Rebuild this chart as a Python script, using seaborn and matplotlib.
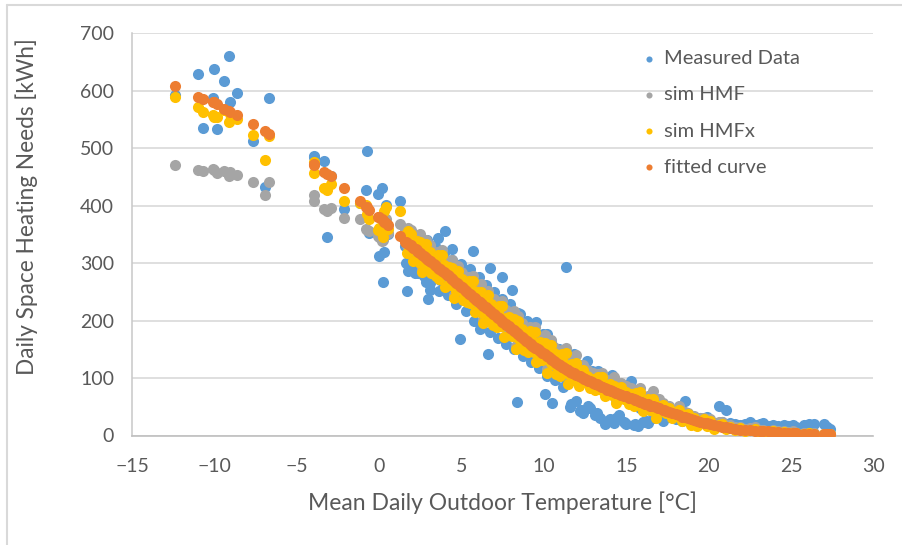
import numpy as np
import pandas as pd
import seaborn as sns
import matplotlib.pyplot as plt
from matplotlib.lines import Line2D

# Mean daily outdoor temperature of each day [°C]
temp = [
    -12.4, -11.0, -10.7, -10.12, -10.06, -9.88, -9.41, -9.12, -9.05, -8.66,
    -7.69, -6.94, -6.71, -3.98, -3.95, -3.33, -3.16, -2.95, -2.15, -1.20,
    -0.78, -0.75, -0.62, -0.05, -0.02, 0.18, 0.22, 0.30, 0.42, 0.50, 1.23,
    1.55, 1.66, 1.74, 1.85, 1.95, 2.05, 2.15, 2.30, 2.35, 2.50,
    2.62, 2.75, 2.85, 2.96, 3.06, 3.15, 3.30, 3.45, 3.57, 3.70,
    3.82, 3.97, 4.10, 4.22, 4.35, 4.44, 4.55, 4.70, 4.80, 4.88,
    5.00, 5.10, 5.20, 5.35, 5.45, 5.55, 5.69, 5.80, 5.90, 6.00,
    6.10, 6.20, 6.32, 6.45, 6.60, 6.71, 6.80, 6.90, 7.00, 7.12,
    7.25, 7.35, 7.48, 7.60, 7.72, 7.85, 8.03, 8.15, 8.28, 8.37,
    8.45, 8.53, 8.65, 8.78, 8.90, 9.02, 9.15, 9.30, 9.45, 9.51,
    9.62, 9.75, 9.88, 10.05, 10.16, 10.28, 10.40, 10.50, 10.60, 10.72,
    10.85, 10.97, 11.10, 11.22, 11.31, 11.45, 11.60, 11.72, 11.84, 11.95,
    12.10, 12.25, 12.40, 12.52, 12.63, 12.80, 12.95, 13.10, 13.26, 13.40,
    13.55, 13.70, 13.85, 14.00, 14.11, 14.25, 14.40, 14.55, 14.70, 14.85,
    15.00, 15.15, 15.29, 15.45, 15.60, 15.70, 15.85, 16.00, 16.15, 16.30,
    16.45, 16.60, 16.80, 17.00, 17.20, 17.40, 17.60, 17.80, 18.00, 18.20,
    18.40, 18.57, 18.75, 18.90, 19.10, 19.30, 19.50, 19.70, 19.90, 20.10,
    20.30, 20.60, 20.80, 21.06, 21.30, 21.60, 21.90, 22.20, 22.50, 22.80,
    23.10, 23.30, 23.60, 23.90, 24.20, 24.55, 24.85, 25.10, 25.30, 25.80,
    26.10, 26.40, 27.00, 27.20, 27.40,
    1.60, 1.90, 2.20, 2.45, 2.70, 2.90, 3.10, 3.40, 3.65, 3.90,
    4.15, 4.40, 4.65, 4.95, 5.25, 5.50, 5.75, 6.05, 6.25, 6.50,
    6.75, 6.95, 7.20, 7.45, 7.70, 7.95, 8.20, 8.42, 8.70, 8.95,
    9.20, 9.40, 9.70, 9.95, 10.20, 10.45, 10.70, 10.92, 11.15, 11.40,
    11.65, 11.90, 12.20, 12.45, 12.70, 12.90, 13.20, 13.50, 13.80, 14.05,
    14.35, 14.65, 14.95, 15.25, 15.55, 15.90, 16.20, 16.55, 16.90, 17.30,
]

# Measured daily space heating needs [kWh]
measured = [
    592, 630, 535, 588, 637, 534, 617, 661, 580, 596,
    512, 432, 587, 487, 484, 477, 345, 451, 394, 405,
    428, 496, 352, 421, 313, 431, 267, 319, 402, 350, 408,
    330, 251, 286, 318, 300, 310, 282, 305, 283, 296,
    300, 287, 268, 237, 254, 290, 280, 300, 344, 270,
    292, 356, 262, 285, 244, 324, 258, 276, 250, 168,
    268, 240, 262, 236, 270, 252, 321, 246, 226, 250,
    185, 238, 222, 246, 141, 292, 220, 236, 200, 224,
    196, 215, 275, 190, 208, 176, 254, 180, 196, 58,
    170, 211, 160, 182, 152, 176, 148, 170, 140, 197,
    158, 134, 150, 73, 176, 124, 146, 56, 132, 118,
    138, 110, 128, 102, 294, 120, 49, 116, 141, 60,
    108, 45, 40, 104, 130, 48, 96, 36, 113, 30,
    88, 20, 78, 28, 105, 22, 76, 35, 68, 24,
    20, 60, 95, 18, 56, 17, 48, 24, 50, 22,
    44, 30, 40, 38, 26, 40, 32, 36, 28, 34,
    26, 60, 30, 24, 28, 22, 30, 26, 32, 26,
    22, 51, 24, 45, 22, 20, 18, 20, 24, 18,
    20, 22, 17, 19, 17, 18, 16, 18, 15, 18,
    20, 20, 20, 14, 12,
    300, 350, 290, 345, 278, 340, 266, 330, 252, 318,
    244, 306, 228, 298, 216, 290, 200, 275, 192, 262,
    180, 250, 170, 238, 160, 228, 150, 214, 138, 200,
    128, 190, 118, 176, 104, 164, 96, 150, 84, 140,
    54, 128, 42, 120, 52, 112, 40, 100, 26, 92,
    30, 84, 22, 76, 20, 66, 26, 58, 34, 50,
]

# Simulated needs, HMF model [kWh]
sim_hmf = [
    470, 462, 460, 464, 462, 456, 461, 451, 458, 454,
    442, 419, 441, 419, 408, 394, 390, 396, 379, 376,
    360, 358, 356, 347, 345, 338, 340, 350, 376, 352, 368,
    359, 331, 362, 338, 358, 319, 339, 342, 318, 351,
    290, 331, 341, 314, 328, 286, 320, 291, 320, 295,
    322, 275, 294, 297, 272, 306, 245, 285, 295, 269,
    282, 240, 275, 246, 275, 251, 277, 231, 250, 254,
    230, 263, 202, 243, 252, 225, 239, 196, 232, 203,
    232, 208, 234, 188, 207, 210, 183, 217, 156, 198,
    208, 182, 195, 152, 187, 159, 188, 162, 189, 144,
    164, 167, 142, 175, 115, 157, 166, 140, 154, 111,
    147, 118, 148, 124, 152, 106, 125, 129, 106, 140,
    92, 119, 122, 109, 114, 86, 109, 93, 107, 94,
    109, 84, 92, 93, 80, 101, 62, 89, 92, 80,
    86, 58, 82, 66, 80, 68, 83, 59, 67, 68,
    55, 77, 37, 64, 57, 48, 52, 34, 43, 51,
    28, 41, 40, 24, 34, 23, 31, 30, 22, 29,
    15, 24, 24, 19, 18, 14, 15, 11, 13, 14,
    9, 10, 8, 10, 8, 8, 6, 7, 5, 5,
    5, 4, 3, 3, 3,
    352, 334, 348, 312, 338, 300, 332, 314, 282, 308,
    276, 298, 264, 284, 276, 240, 266, 256, 224, 250,
    214, 238, 226, 198, 218, 186, 206, 178, 192, 164,
    180, 154, 170, 146, 160, 134, 150, 124, 140, 116,
    130, 108, 122, 102, 112, 96, 106, 88, 96, 82,
    90, 74, 82, 68, 74, 62, 66, 54, 56, 48,
]

# Simulated needs, HMFx model [kWh]
sim_hmfx = [
    590, 571, 563, 558, 554, 555, 566, 545, 560, 551,
    523, 479, 522, 456, 476, 431, 427, 437, 408, 404,
    402, 385, 376, 358, 362, 353, 346, 391, 398, 360, 391,
    349, 317, 356, 326, 350, 303, 329, 338, 308, 337,
    284, 319, 333, 298, 318, 282, 310, 277, 314, 283,
    314, 259, 284, 293, 262, 292, 239, 273, 287, 253,
    272, 236, 265, 232, 269, 239, 269, 215, 240, 250,
    220, 249, 196, 231, 244, 209, 229, 192, 222, 189,
    226, 196, 226, 172, 197, 206, 173, 203, 150, 186,
    200, 166, 185, 148, 177, 145, 182, 150, 181, 128,
    154, 163, 132, 161, 109, 145, 158, 124, 144, 107,
    137, 104, 142, 112, 144, 90, 115, 125, 96, 126,
    86, 107, 114, 93, 104, 82, 99, 79, 101, 82,
    101, 68, 82, 89, 70, 87, 56, 77, 84, 64,
    76, 54, 72, 52, 74, 56, 75, 43, 57, 64,
    45, 63, 31, 52, 53, 40, 47, 31, 38, 45,
    25, 35, 38, 19, 30, 16, 26, 28, 17, 25,
    12, 18, 20, 11, 15, 9, 13, 7, 10, 12,
    6, 8, 5, 8, 5, 6, 4, 5, 4, 3,
    4, 3, 2, 2, 2,
    340, 322, 336, 300, 326, 290, 320, 300, 272, 296,
    262, 286, 252, 272, 262, 230, 252, 244, 214, 236,
    204, 224, 214, 190, 204, 176, 192, 170, 180, 154,
    168, 146, 158, 136, 148, 126, 138, 116, 128, 108,
    120, 100, 110, 94, 102, 88, 96, 80, 86, 74,
    80, 66, 72, 60, 66, 54, 58, 48, 50, 42,
]

# Fitted curve evaluated at each day's temperature [kWh]
fitted = [
    608, 590, 586, 581, 580, 577, 568, 565, 563, 558,
    542, 530, 525, 473, 470, 458, 455, 452, 431, 409,
    398, 397, 393, 381, 380, 376, 375, 372, 369, 367, 348,
    337, 335, 334, 332, 330, 327, 325, 322, 320, 317,
    314, 311, 309, 306, 304, 302, 298, 295, 292, 289,
    286, 283, 280, 277, 274, 272, 269, 265, 263, 261,
    258, 256, 253, 250, 247, 245, 241, 239, 236, 234,
    232, 229, 226, 223, 220, 217, 215, 212, 210, 207,
    204, 202, 198, 196, 193, 190, 185, 183, 180, 178,
    176, 174, 171, 168, 165, 163, 160, 156, 153, 152,
    150, 147, 144, 141, 139, 137, 134, 132, 130, 127,
    125, 122, 120, 118, 116, 114, 111, 109, 108, 106,
    104, 102, 100, 98, 96, 94, 92, 90, 88, 86,
    84, 82, 80, 79, 77, 75, 74, 72, 70, 69,
    68, 66, 65, 63, 61, 60, 58, 57, 55, 54,
    52, 51, 49, 47, 45, 43, 41, 39, 37, 35,
    33, 32, 30, 29, 27, 26, 24, 22, 21, 20,
    18, 16, 15, 14, 13, 12, 10, 10, 9, 8,
    8, 7, 7, 6, 6, 5, 4, 4, 4, 3,
    3, 3, 2, 2, 2,
    336, 331, 324, 318, 312, 308, 303, 296, 290, 285,
    279, 273, 266, 259, 252, 246, 240, 233, 228, 222,
    216, 211, 205, 199, 194, 187, 182, 177, 170, 164,
    159, 154, 148, 143, 138, 133, 128, 123, 119, 114,
    110, 107, 103, 99, 95, 93, 89, 85, 81, 78,
    74, 71, 68, 65, 62, 58, 55, 51, 48, 44,
]

x_ticks = [-15, -10, -5, 0, 5, 10, 15, 20, 25, 30]
y_ticks = [0, 100, 200, 300, 400, 500, 600, 700]

series_names = ["Measured Data", "sim HMF", "sim HMFx", "fitted curve"]
series_colors = ["#5B9BD5", "#A5A5A5", "#FFC000", "#ED7D31"]

sns.set_style("white")
plt.rcParams["font.family"] = ["Lato", "DejaVu Sans"]
TXT = "#595959"

fig = plt.figure(figsize=(9.02, 5.45), dpi=100)
ax = fig.add_axes([132.3 / 902, 1 - 435.5 / 545, 741 / 902, 402.2 / 545])

for name, vals, col in zip(series_names, [measured, sim_hmf, sim_hmfx, fitted], series_colors):
    df = pd.DataFrame({"temp": temp, "value": vals})
    sns.scatterplot(data=df, x="temp", y="value", ax=ax, color=col, s=64,
                    linewidth=0, label=name, zorder=3)

ax.set_xlim(-15, 30)
ax.set_ylim(0, 700)
ax.set_xticks(x_ticks)
ax.set_yticks(y_ticks)
ax.yaxis.grid(True, color="#D9D9D9", linewidth=1.2, zorder=0)
ax.xaxis.grid(False)
ax.set_axisbelow(True)
for side in ["top", "right"]:
    ax.spines[side].set_visible(False)
ax.spines["left"].set_color("#C8C8C8")
ax.spines["bottom"].set_color("#BFBFBF")
ax.spines["left"].set_linewidth(1.1)
ax.spines["bottom"].set_linewidth(1.2)
ax.tick_params(axis="both", length=0, colors=TXT, labelsize=14)
ax.tick_params(axis="y", pad=13)
ax.tick_params(axis="x", pad=16)

ax.set_xlabel("Mean Daily Outdoor Temperature [°C]", fontsize=16.5, color=TXT)
ax.set_ylabel("Daily Space Heating Needs [kWh]", fontsize=16.3, color=TXT)
ax.xaxis.label.set_va("center")
ax.yaxis.label.set_va("center")
ax.xaxis.set_label_coords(0.5, -0.168)
ax.yaxis.set_label_coords(-0.142, 0.57)

leg = ax.legend(loc="upper left", bbox_to_anchor=(640 / 902, 1 - 50 / 545),
                bbox_transform=fig.transFigure, frameon=False, markerscale=0.55,
                handlelength=0.9, handletextpad=0.3, labelspacing=0.95,
                fontsize=14.5, labelcolor=TXT, borderaxespad=0, borderpad=0)

# chart-area border (left and top edges)
fig.add_artist(Line2D([7.5 / 902, 7.5 / 902], [0, 1 - 5 / 545], transform=fig.transFigure,
                      color="#D9D9D9", linewidth=1.5))
fig.add_artist(Line2D([7.5 / 902, 1], [1 - 5 / 545, 1 - 5 / 545], transform=fig.transFigure,
                      color="#D9D9D9", linewidth=1.5))

fig.savefig("out.png", dpi=100)
